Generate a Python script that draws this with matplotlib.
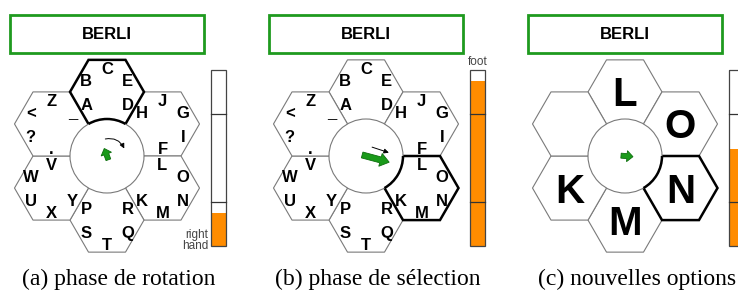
import numpy as np
import matplotlib.pyplot as plt
from matplotlib.patches import RegularPolygon, Circle, Rectangle, Arc, FancyArrow, FancyArrowPatch

# --- data ---------------------------------------------------------------
panel_x = [107, 366, 625]          # centre of each keyboard
captions = ['(a) phase de rotation', '(b) phase de sélection', '(c) nouvelles options']
word = 'BERLI'

# petals around the centre, slots inside a petal use the same angle order:
# top, upper-right, lower-right, bottom, lower-left, upper-left
petal_angles = [90, 30, -30, -90, -150, 150]
petal_letters = [
    ['C', 'E', 'D', '', 'A', 'B'],
    ['J', 'G', 'I', 'F', '', 'H'],
    ['L', 'O', 'N', 'M', 'K', ''],
    ['', 'R', 'Q', 'T', 'S', 'P'],
    ['V', '', 'Y', 'X', 'U', 'W'],
    ['Z', '_', '', '.', '?', '<'],
]
new_options = ['L', 'O', 'N', 'M', 'K', '']   # panel (c)

selected = [0, 2, 2]               # highlighted petal in each panel
bar_level = [0.19, 0.94, 0.55]
bar_marks = [0.25, 0.75]
bar_label = ['right\nhand', 'foot', '']
pointer_angle = [110, -15, -5]
pointer_len = [12, 28, 12]

# --- geometry -----------------------------------------------------------
R = 37.0
D = R * np.sqrt(3)
cy = 156
ring = 24
grey = '#7a7a7a'

fig = plt.figure(figsize=(7.38, 2.93), dpi=100)
ax = fig.add_axes([0, 0, 1, 1])
ax.set_xlim(0, 738)
ax.set_ylim(293, 0)
ax.axis('off')

def pos(x, y, r, a):
    a = np.radians(a)
    return x + r * np.cos(a), y - r * np.sin(a)

for p, cx in enumerate(panel_x):
    # title box
    ax.add_patch(Rectangle((cx - 97, 15), 194, 38, fc='white', ec='#1f9a1f', lw=2))
    ax.text(cx, 39, word, ha='center', va='baseline', fontsize=12,
            fontweight='bold', family='Liberation Sans')

    # petals
    for i, a in enumerate(petal_angles):
        hx, hy = pos(cx, cy, D, a)
        sel = i == selected[p]
        ax.add_patch(RegularPolygon((hx, hy), 6, radius=R, orientation=np.pi / 6,
                                    fc='white', ec='black' if sel else grey,
                                    lw=1.8 if sel else 0.8, zorder=3 if sel else 2))
        if p < 2:
            for s, ch in zip(petal_angles, petal_letters[i]):
                if ch:
                    tx, ty = pos(hx, hy, ring, s)
                    ax.text(tx, ty + 6, ch, ha='center', va='baseline', fontsize=12,
                            fontweight='bold', family='Liberation Sans', zorder=6)
        elif new_options[i]:
            ax.text(hx, hy + 14.5, new_options[i], ha='center', va='baseline', fontsize=29,
                    fontweight='bold', family='Liberation Sans', zorder=6)

    # centre
    ax.add_patch(Circle((cx, cy), R, fc='white', ec=grey, lw=0.8, zorder=4))
    a = petal_angles[selected[p]]
    ax.add_patch(Arc((cx, cy), 2 * R, 2 * R, theta1=-a - 30, theta2=-a + 30,
                     color='black', lw=1.8, zorder=5))

    # pointer
    pa = pointer_angle[p]
    L = pointer_len[p]
    x0, y0 = pos(cx, cy, -4, pa)
    x1, y1 = pos(cx, cy, L - 4, pa)
    w = 5 if p != 1 else 6
    ax.add_patch(FancyArrow(x0, y0, x1 - x0, y1 - y0, width=w,
                            head_width=2.2 * w, head_length=min(0.5 * L, 9),
                            length_includes_head=True, fc='#1a9a1a', ec='#0d6e0d',
                            lw=0.6, zorder=6))
    if p == 0:
        ax.add_patch(FancyArrowPatch(pos(cx, cy, 17, 105), pos(cx, cy, 19, 15),
                                     connectionstyle='arc3,rad=-0.45', arrowstyle='-|>',
                                     mutation_scale=7, color='black', lw=0.7, zorder=6))
    if p == 1:
        sx, sy = pos(x0, y0, 9, pa + 90)
        ex, ey = pos(x1, y1, 9, pa + 90)
        ax.add_patch(FancyArrowPatch((sx + 5, sy), (ex, ey), arrowstyle='-|>',
                                     mutation_scale=7, color='black', lw=0.7, zorder=6))

    # gauge
    bx, top, h = cx + 104, 70, 176
    ax.add_patch(Rectangle((bx, top + h * (1 - bar_level[p])), 15, h * bar_level[p],
                           fc='#ff8c00', ec='none', zorder=2))
    ax.add_patch(Rectangle((bx, top), 15, h, fc='none', ec='#444444', lw=0.9, zorder=3))
    for m in bar_marks:
        ax.plot([bx, bx + 15], [top + h * (1 - m)] * 2, color='#333333', lw=0.9, zorder=3)
    if p == 0:
        ax.text(bx - 3, top + h + 6, bar_label[p], ha='right', va='bottom', fontsize=8.5,
                color='#444444', family='Liberation Sans', linespacing=0.85)
    elif bar_label[p]:
        ax.text(bx + 7.5, top - 2, bar_label[p], ha='center', va='bottom', fontsize=8.5,
                color='#444444', family='Liberation Sans')

    ax.text(cx + 12, 285, captions[p], ha='center', va='baseline', fontsize=17,
            family='Liberation Serif')

fig.savefig('out.png', dpi=100, facecolor='white')
